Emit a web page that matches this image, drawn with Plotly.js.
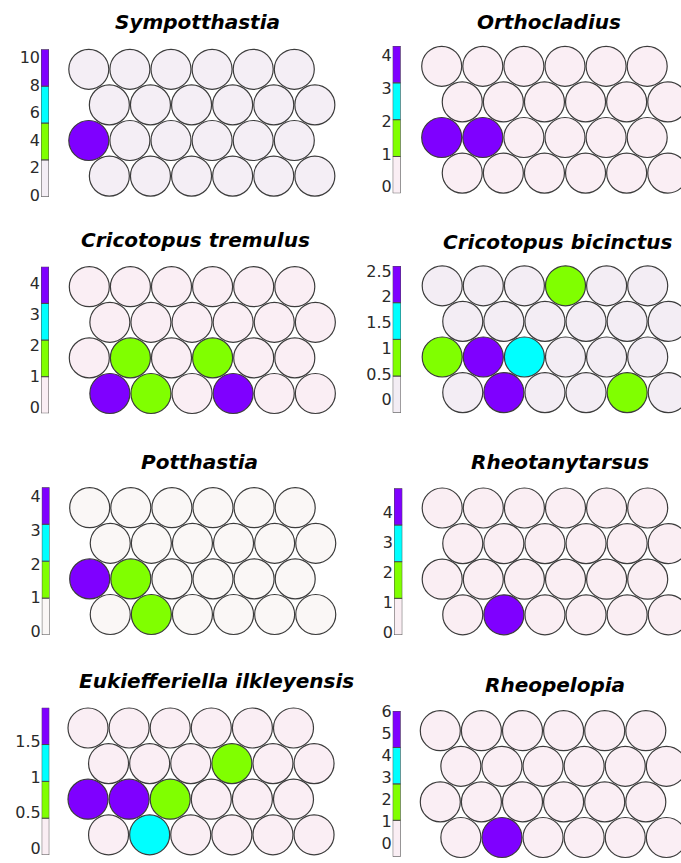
<!DOCTYPE html>
<html>
<head>
<meta charset="utf-8">
<script src="https://cdn.plot.ly/plotly-3.0.1.min.js"></script>
<style>
  html, body { margin: 0; padding: 0; background: #fff; }
  #chart { width: 681px; height: 863px; }
</style>
</head>
<body>
<div id="chart"></div>
<script>
// One SOM component plane per taxon
const species = [
  'Sympotthastia', 'Orthocladius',
  'Cricotopus tremulus', 'Cricotopus bicinctus',
  'Potthastia', 'Rheotanytarsus',
  'Eukiefferiella ilkleyensis', 'Rheopelopia'
];

// Node values of the 4 x 6 hexagonal map, rows from top to bottom
const sympotthastia = [
  [0, 0, 0, 0, 0, 0],
  [0, 0, 0, 0, 0, 0],
  [10.6, 0, 0, 0, 0, 0],
  [0, 0, 0, 0, 0, 0]
];
const orthocladius = [
  [0, 0, 0, 0, 0, 0],
  [0, 0, 0, 0, 0, 0],
  [4.3, 4.1, 0, 0, 0, 0],
  [0, 0, 0, 0, 0, 0]
];
const cricotopusTremulus = [
  [0, 0, 0, 0, 0, 0],
  [0, 0, 0, 0, 0, 0],
  [0, 1.6, 0, 1.5, 0, 0],
  [4.55, 1.8, 0, 4.2, 0, 0]
];
const cricotopusBicinctus = [
  [0, 0, 0, 0.9, 0, 0],
  [0, 0, 0, 0, 0, 0],
  [0.8, 2.6, 1.5, 0, 0, 0],
  [0, 2.3, 0, 0, 0.7, 0]
];
const potthastia = [
  [0, 0, 0, 0, 0, 0],
  [0, 0, 0, 0, 0, 0],
  [4.27, 1.6, 0, 0, 0, 0],
  [0, 1.3, 0, 0, 0, 0]
];
const rheotanytarsus = [
  [0, 0, 0, 0, 0, 0],
  [0, 0, 0, 0, 0, 0],
  [0, 0, 0, 0, 0, 0],
  [0, 4.8, 0, 0, 0, 0]
];
const eukiefferiella = [
  [0, 0, 0, 0, 0, 0],
  [0, 0, 0, 0.7, 0, 0],
  [1.98, 1.7, 0.8, 0, 0, 0],
  [0, 1.2, 0, 0, 0, 0]
];
const rheopelopia = [
  [0, 0, 0, 0, 0, 0],
  [0, 0, 0, 0, 0, 0],
  [0, 0, 0, 0, 0, 0],
  [0, 6.0, 0, 0, 0, 0]
];
const planes = [sympotthastia, orthocladius, cricotopusTremulus, cricotopusBicinctus,
                potthastia, rheotanytarsus, eukiefferiella, rheopelopia];

// Colour-scale limits and the tick labels of each colour bar
const scaleMin = [-0.1, -0.2, -0.2, -0.25, -0.1, -0.1, -0.1, -0.6];
const scaleMax = [10.6, 4.3, 4.55, 2.6, 4.27, 4.8, 1.98, 6.0];
const scaleTicks = [
  [0, 2, 4, 6, 8, 10],
  [0, 1, 2, 3, 4],
  [0, 1, 2, 3, 4],
  [0, 0.5, 1, 1.5, 2, 2.5],
  [0, 1, 2, 3, 4],
  [0, 1, 2, 3, 4],
  [0, 0.5, 1, 1.5],
  [0, 1, 2, 3, 4, 5, 6]
];

// ---- styling and page geometry (pixels) ----
const W = 681, H = 863;
const PX = 41.1;                 // pixels per unit of node spacing
const HEX = Math.sqrt(3) / 2;    // vertical step of a hexagonal lattice
const nodeOrigin = [
  [88.8, 69.3], [441.7, 66.3],
  [89.3, 286.7], [442.2, 285.8],
  [89.7, 507.7], [442.2, 508.0],
  [88.0, 728.0], [440.3, 730.7]
];
const barBox = [                 // x0, y0, x1, y1
  [41.0, 49.3, 49.0, 196.7], [392.7, 46.0, 400.7, 193.3],
  [41.0, 266.7, 49.0, 413.3], [392.7, 266.0, 401.0, 412.7],
  [41.8, 487.3, 49.5, 635.0], [394.0, 488.3, 402.3, 635.0],
  [41.7, 707.7, 49.3, 855.0], [392.7, 711.0, 400.7, 856.7]
];
const titlePos = [
  [197.5, 22], [549, 22],
  [195, 240], [557.5, 242],
  [199.5, 462], [560, 462],
  [216, 681], [554.7, 685]
];
const lowColor = ['#F4EEF5', '#FAEEF4', '#FAEEF4', '#F3EDF4',
                  '#FAF7F6', '#FAEEF3', '#FAEEF4', '#FAEEF4'];
const GREEN = '#80FF00', CYAN = '#00FFFF', PURPLE = '#7F00FF';
const FONT = 'DejaVu Sans, Verdana, sans-serif';

function stepScale(low) {
  return [[0, low], [0.25, low], [0.25, GREEN], [0.5, GREEN],
          [0.5, CYAN], [0.75, CYAN], [0.75, PURPLE], [1, PURPLE]];
}

const traces = [];
const layout = {
  width: W, height: H,
  margin: {l: 0, r: 0, t: 0, b: 0},
  paper_bgcolor: '#fff', plot_bgcolor: 'rgba(0,0,0,0)',
  showlegend: false,
  annotations: []
};

planes.forEach((grid, p) => {
  const mapId = 2 * p + 1, barId = 2 * p + 2;
  const cs = stepScale(lowColor[p]);
  const cmin = scaleMin[p], cmax = scaleMax[p];

  // hexagonal lattice: odd rows shifted half a node to the right
  const xs = [], ys = [], vs = [];
  grid.forEach((row, r) => row.forEach((v, c) => {
    xs.push(c + (r % 2) * 0.5);
    ys.push(-r * HEX);
    vs.push(v);
  }));
  traces.push({
    type: 'scatter', mode: 'markers',
    x: xs, y: ys,
    xaxis: 'x' + mapId, yaxis: 'y' + mapId,
    marker: {
      symbol: 'circle', size: 40,
      color: vs, colorscale: cs, cmin: cmin, cmax: cmax, showscale: false,
      line: {color: '#3c3c3c', width: 1.2}
    },
    hoverinfo: 'skip'
  });

  const [ox, oy] = nodeOrigin[p];
  const L = ox - 24, R = Math.min(W, ox + 5.5 * PX + 24);
  const T = oy - 24, B = Math.min(H, oy + 3 * HEX * PX + 24);
  layout['xaxis' + mapId] = {
    anchor: 'y' + mapId,
    domain: [L / W, R / W], range: [(L - ox) / PX, (R - ox) / PX],
    visible: false, fixedrange: true
  };
  layout['yaxis' + mapId] = {
    anchor: 'x' + mapId,
    domain: [1 - B / H, 1 - T / H], range: [-(B - oy) / PX, (oy - T) / PX],
    visible: false, fixedrange: true
  };

  // colour bar: four equal classes between the scale limits
  const w = (cmax - cmin) / 4;
  const bases = [0, 1, 2, 3].map(k => cmin + k * w);
  traces.push({
    type: 'bar',
    x: [0, 0, 0, 0], y: [w, w, w, w], base: bases, width: 1,
    xaxis: 'x' + barId, yaxis: 'y' + barId,
    marker: {
      color: bases.map(b => b + w / 2), colorscale: cs, cmin: cmin, cmax: cmax,
      line: {color: '#4a4a4a', width: 1}
    },
    cliponaxis: false,
    hoverinfo: 'skip'
  });
  const [bx0, by0, bx1, by1] = barBox[p];
  layout['xaxis' + barId] = {
    anchor: 'y' + barId,
    domain: [bx0 / W, bx1 / W], range: [-0.5, 0.5],
    visible: false, fixedrange: true
  };
  layout['yaxis' + barId] = {
    anchor: 'x' + barId,
    domain: [1 - by1 / H, 1 - by0 / H], range: [cmin, cmax],
    side: 'left', showgrid: false, zeroline: false, showline: false,
    ticks: '', tickvals: scaleTicks[p], ticktext: scaleTicks[p].map(String),
    tickfont: {family: FONT, size: 16, color: '#2a2a2a'},
    ticklabelstandoff: 0,
    fixedrange: true
  };

  layout.annotations.push({
    text: species[p],
    xref: 'paper', yref: 'paper',
    x: titlePos[p][0] / W, y: 1 - titlePos[p][1] / H,
    xanchor: 'center', yanchor: 'middle', showarrow: false,
    font: {family: FONT, size: 20, weight: 'bold', style: 'italic', color: '#000'}
  });
});

Plotly.newPlot('chart', traces, layout, {staticPlot: true, displayModeBar: false});
</script>
</body>
</html>
